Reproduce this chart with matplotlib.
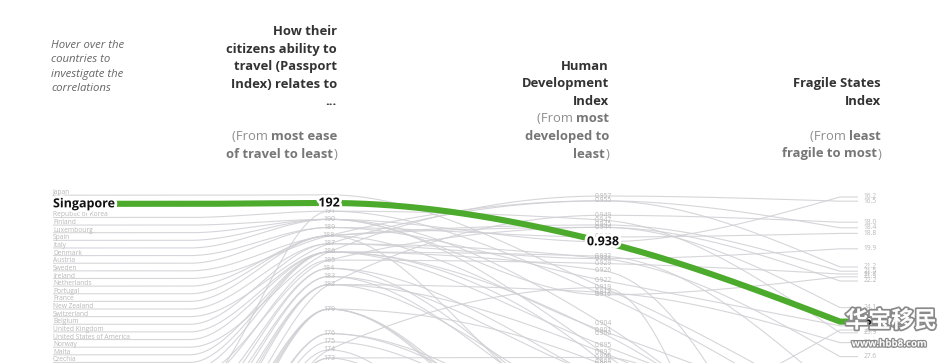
import numpy as np
import matplotlib
matplotlib.use("Agg")
import matplotlib.pyplot as plt
import matplotlib.patheffects as pe

plt.rcParams['font.family'] = ['Open Sans', 'DejaVu Sans']

# countries in the order of the left-hand list
countries = ["Japan", "Singapore", "Republic of Korea", "Finland", "Luxembourg", "Spain", "Italy",
             "Denmark", "Austria", "Sweden", "Ireland", "Netherlands", "Portugal", "France",
             "New Zealand", "Switzerland", "Belgium", "United Kingdom", "United States of America",
             "Norway", "Malta", "Czechia",
             "Greece", "Australia", "Canada", "Germany", "Hungary", "Poland", "Lithuania", "Slovakia",
             "Latvia", "Slovenia", "Estonia", "Iceland", "Malaysia", "Bulgaria", "Cyprus", "Romania",
             "Croatia", "Chile", "Argentina", "Brazil", "Israel", "Uruguay", "United Arab Emirates",
             "Mexico", "Mauritius", "Qatar", "Panama", "Costa Rica", "Kuwait", "Montenegro", "Serbia",
             "Ukraine", "Saudi Arabia", "Russian Federation", "Turkey", "China"]
passport = [193, 192, 191, 190, 190, 190, 190, 189, 189, 188, 188, 188, 188, 188, 187, 187, 187,
            186, 186, 186, 186, 186,
            186, 185, 185, 191, 184, 184, 183, 183, 182, 182, 182, 182, 179, 179, 179, 179, 176, 176,
            175, 174, 174, 173, 173, 171, 170, 169, 168, 166, 165, 164, 162, 160, 158, 155, 150, 148]
hdi = [0.919, 0.938, 0.916, 0.938, 0.916, 0.904, 0.892, 0.940, 0.922, 0.945, 0.955, 0.944, 0.864,
       0.901, 0.931, 0.955, 0.931, 0.932, 0.926, 0.957, 0.895, 0.900,
       0.888, 0.944, 0.929, 0.947, 0.854, 0.880, 0.882, 0.860, 0.866, 0.917, 0.892, 0.949, 0.810,
       0.816, 0.887, 0.828, 0.851, 0.851, 0.845, 0.765, 0.919, 0.817, 0.890, 0.779, 0.804, 0.848,
       0.815, 0.810, 0.806, 0.829, 0.806, 0.779, 0.854, 0.824, 0.820, 0.761]
fsi = [31.5, 25.1, 32.6, 16.2, 21.9, 39.0, 42.0, 18.8, 25.4, 21.5, 21.2, 24.1, 25.7, 32.0, 19.9,
       18.4, 27.6, 30.4, 46.6, 16.5, 33.7, 37.5,
       50.2, 22.2, 21.7, 25.9, 48.0, 40.5, 34.1, 39.3, 38.6, 26.6, 36.1, 18.0, 58.4, 49.3, 55.0,
       44.0, 46.0, 41.5, 46.0, 72.0, 72.5, 34.6, 42.0, 68.0, 40.0, 44.0, 50.0, 42.0, 47.0, 52.0,
       65.0, 69.0, 68.0, 72.0, 80.0, 69.0]
highlight = "Singapore"
passport_ticks = [192, 191, 190, 189, 188, 187, 186, 185, 184, 183, 182, 179, 176, 175, 174, 173,
                  171, 170, 169, 168, 166, 165, 164, 162, 160, 158, 155, 150, 148]

note_lines = ["Hover over the", "countries to", "investigate the", "correlations"]
B, R = True, False
# (right edge, lines, index of first sub-line)
headers = [
    (337, [[("How their", B)], [("citizens ability to", B)], [("travel (Passport", B)],
           [("Index) relates to", B)], [("...", B)], [],
           [("(From ", R), ("most ease", B)], [("of travel to least", B), (")", R)]], 6),
    (609, [[("Human", B)], [("Development", B)], [("Index", B)],
           [("(From ", R), ("most", B)], [("developed to", B)], [("least", B), (")", R)]], 3),
    (881, [[("Fragile States", B)], [("Index", B)], [],
           [("(From ", R), ("least", B)], [("fragile to most", B), (")", R)]], 3),
]

# axis layout (pixels)
X_LEFT, X_RUN, X_PASS, X_HDI, X_FSI, X_FSI_LBL = 53, 190, 329, 603, 840, 870
BOTTOM = 363
hl = countries.index(highlight)


def y_left(i):
    return 192.7 + 7.63 * i + (3.5 if i == hl else 7.0 if i > hl else 0.0)


def y_pass(p):
    return 203 + (192 - p) * 8.16


def y_hdi(h):
    return 196 + (0.957 - h) * 2410


def y_fsi(f):
    return 197 + (f - 16.2) * 14


def slope3(x0, y0, x1, y1, x2, y2):
    h0, h1 = x1 - x0, x2 - x1
    s0, s1 = (y1 - y0) / h0, (y2 - y1) / h1
    p = (s0 * h1 + s1 * h0) / (h0 + h1)
    sg = lambda v: -1 if v < 0 else 1
    return (sg(s0) + sg(s1)) * min(abs(s0), abs(s1), 0.5 * abs(p))


def monotone(xs, ys, n=40):
    m = len(xs)
    t = [0.0] * m
    for i in range(1, m - 1):
        t[i] = slope3(xs[i - 1], ys[i - 1], xs[i], ys[i], xs[i + 1], ys[i + 1])
    t[0] = (3 * (ys[1] - ys[0]) / (xs[1] - xs[0]) - t[1]) / 2
    t[-1] = (3 * (ys[-1] - ys[-2]) / (xs[-1] - xs[-2]) - t[-2]) / 2
    u = np.linspace(0, 1, n)[:, None]
    out = []
    for i in range(m - 1):
        dx = (xs[i + 1] - xs[i]) / 3
        P = np.array([[xs[i], ys[i]], [xs[i] + dx, ys[i] + dx * t[i]],
                      [xs[i + 1] - dx, ys[i + 1] - dx * t[i + 1]], [xs[i + 1], ys[i + 1]]])
        seg = ((1 - u) ** 3) * P[0] + 3 * ((1 - u) ** 2) * u * P[1] + 3 * (1 - u) * u ** 2 * P[2] + u ** 3 * P[3]
        out.append(seg)
    pts = np.vstack(out)
    return pts[:, 0], pts[:, 1]


def country_path(i):
    yl = y_left(i) + (0 if i == hl else 2.5)
    yp, yh, yf = y_pass(passport[i]), y_hdi(hdi[i]), y_fsi(fsi[i])
    x, y = monotone([X_LEFT, X_RUN, X_PASS, X_HDI, X_FSI], [yl, yl, yp, yh, yf])
    return np.append(x, X_FSI + 18), np.append(y, yf)


fig = plt.figure(figsize=(9.52, 3.63), dpi=100)
ax = fig.add_axes([0, 0, 1, 1])
ax.set_xlim(0, 952)
ax.set_ylim(BOTTOM, 0)
ax.axis('off')

for i in range(len(countries)):
    if i == hl:
        continue
    x, y = country_path(i)
    ax.plot(x, y, color='#cfcfd4', lw=0.8, alpha=0.85, zorder=1, solid_capstyle='butt')

# small grey labels; the list runs on below the visible window
gray = '#b8b8b8'
for i, c in enumerate(countries):
    if i != hl:
        ax.text(X_LEFT, y_left(i), c, fontsize=4.8, color=gray, va='center', ha='left', zorder=2,
                clip_on=True)
for p in passport_ticks:
    if p != passport[hl]:
        ax.text(X_PASS, y_pass(p), str(p), fontsize=5, color=gray, va='center', ha='center', zorder=2,
                clip_on=True)
for v in sorted(set(hdi)):
    if v != hdi[hl]:
        ax.text(X_HDI, y_hdi(v), f"{v:.3f}", fontsize=4.8, color=gray, va='center', ha='center', zorder=2,
                clip_on=True)
for v in sorted(set(fsi)):
    if v != fsi[hl]:
        ax.text(X_FSI_LBL, y_fsi(v), f"{v:.1f}", fontsize=4.8, color=gray, va='center', ha='center',
                zorder=2, clip_on=True)

# highlighted country
x, y = country_path(hl)
ax.plot(x, y, color='#4caa2c', lw=4.4, zorder=3, solid_capstyle='butt')
halo = [pe.withStroke(linewidth=4, foreground='white')]
ax.text(X_LEFT, y_left(hl), highlight, fontsize=9, fontweight='bold', color='#111111',
        va='center', ha='left', zorder=4, path_effects=halo)
ax.text(X_PASS, y_pass(passport[hl]), str(passport[hl]), fontsize=9, fontweight='bold', color='#111111',
        va='center', ha='center', zorder=4, path_effects=halo)
ax.text(X_HDI, y_hdi(hdi[hl]), f"{hdi[hl]:.3f}", fontsize=9, fontweight='bold', color='#111111',
        va='center', ha='center', zorder=4, path_effects=halo)
ax.text(X_FSI_LBL, y_fsi(fsi[hl]), f"{fsi[hl]:.1f}", fontsize=9, fontweight='bold', color='#111111',
        va='center', ha='center', zorder=4, path_effects=halo)

# note on the left
for k, line in enumerate(note_lines):
    ax.text(51, 45 + k * 14.5, line, fontsize=8.2, style='italic', color='#666666', va='center', ha='left')

# column headers, bottom aligned, mixed weights
renderer = fig.canvas.get_renderer()
for x_right, lines, first_sub in headers:
    n = len(lines)
    for k, segs in enumerate(lines):
        yy = 154 - (n - 1 - k) * 17.5
        xx = x_right
        for txt, bold in reversed(segs):
            if k >= first_sub:
                col = '#767676' if bold else '#8e8e8e'
            else:
                col = '#333333'
            t = ax.text(xx, yy, txt, fontsize=9.4, fontweight='bold' if bold else 'normal', color=col,
                        va='center', ha='right')
            xx -= t.get_window_extent(renderer).width

# watermark
ax.text(891, 321, "华宝移民", fontsize=16.5, fontweight='bold', color='white', ha='center', va='center',
        family=['Noto Sans CJK SC'], zorder=6,
        path_effects=[pe.withStroke(linewidth=2.5, foreground='#8a8a8a')])
ax.text(889, 344, "www.hbb8.com", fontsize=7, fontweight='bold', color='white', ha='center', va='center',
        zorder=6, path_effects=[pe.withStroke(linewidth=1.8, foreground='#8a8a8a')])

fig.savefig("out.png", dpi=100)
